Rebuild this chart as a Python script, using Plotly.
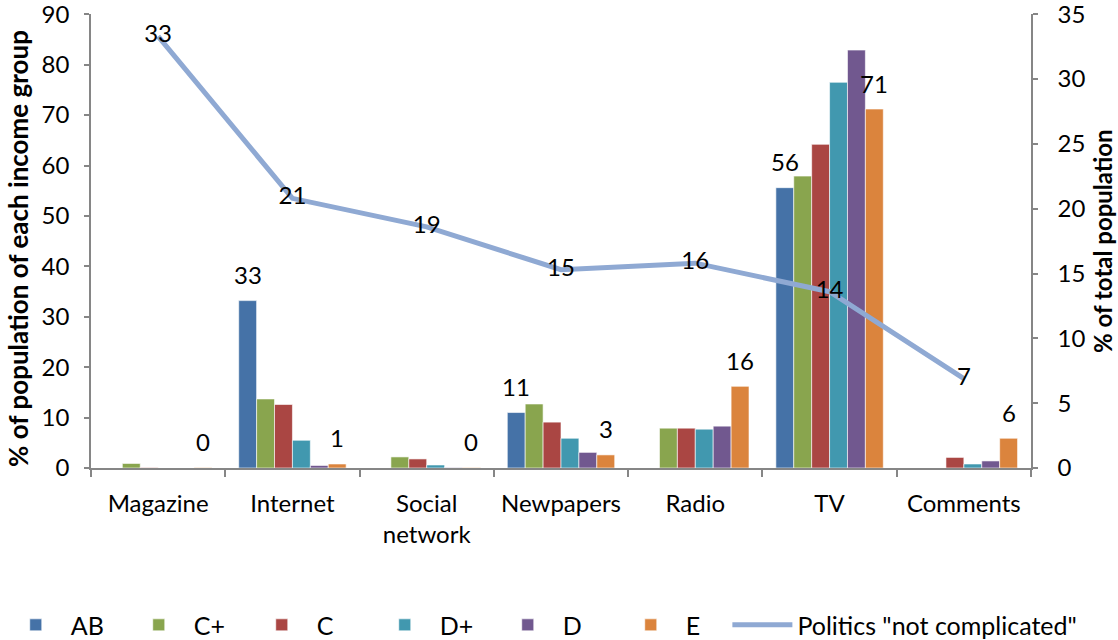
import plotly.graph_objects as go

categories = ["Magazine", "Internet", "Social<br>network", "Newpapers", "Radio", "TV", "Comments"]

ab = [None, 33.2, None, 11.0, None, 55.6, None]
c_plus = [0.9, 13.7, 2.2, 12.7, 7.9, 57.9, None]
c = [0.1, 12.6, 1.8, 9.1, 7.9, 64.2, 2.1]
d_plus = [0.0, 5.5, 0.6, 5.9, 7.7, 76.5, 0.8]
d = [0.0, 0.5, 0.1, 3.1, 8.3, 82.9, 1.4]
e = [0.1, 0.8, 0.1, 2.6, 16.2, 71.2, 5.9]

politics = [33.3, 20.8, 18.6, 15.3, 15.8, 13.6, 6.9]

series_names = ["AB", "C+", "C", "D+", "D", "E"]
series_values = [ab, c_plus, c, d_plus, d, e]
series_colors = ["#4572A7", "#89A54E", "#AA4643", "#4198AF", "#71588F", "#DB843D"]
labelled_series = ["AB", "E"]

left_ticks = [0, 10, 20, 30, 40, 50, 60, 70, 80, 90]
right_ticks = [0, 5, 10, 15, 20, 25, 30, 35]

left_title = "% of population of each income group"
right_title = "% of total population"

FONT = "Lato"
AXIS_GREY = "#868686"


def rlabel(v):
    return "" if v is None else str(int(v + 0.5))


fig = go.Figure()
for name, vals, col in zip(series_names, series_values, series_colors):
    fig.add_trace(go.Bar(
        x=categories, y=vals, name=name,
        marker=dict(color=col, line=dict(color="rgba(255,255,255,0.6)", width=1)),
        yaxis="y", legend="legend",
    ))

fig.add_trace(go.Scatter(
    x=categories, y=politics, name='Politics "not complicated"',
    mode="lines+text", yaxis="y2", legend="legend2",
    line=dict(color="#8FA9D3", width=5),
    text=[rlabel(v) for v in politics],
    textposition="middle center",
    textfont=dict(family=FONT, size=24, color="black"),
    cliponaxis=False,
))

# bar labels for the AB and E series
n_series = len(series_names)
cat_px = 940 / len(categories)
bar_px = cat_px * 0.8 / n_series
annotations = []
for idx, (name, vals) in enumerate(zip(series_names, series_values)):
    if name not in labelled_series:
        continue
    for cat, v in zip(categories, vals):
        if v is None:
            continue
        annotations.append(dict(
            x=cat, y=v, xref="x", yref="y", text=rlabel(v),
            showarrow=False, xanchor="center", yanchor="middle",
            xshift=(idx - (n_series - 1) / 2) * bar_px, yshift=26,
            font=dict(family=FONT, size=24, color="black"),
        ))

# axis titles
annotations.append(dict(
    x=-0.0777, y=0.4846, xref="paper", yref="paper", text="<b>" + left_title + "</b>",
    textangle=-90, showarrow=False, xanchor="center", yanchor="middle",
    font=dict(family=FONT, size=26, color="black"),
))
annotations.append(dict(
    x=1.0755, y=0.5, xref="paper", yref="paper", text="<b>" + right_title + "</b>",
    textangle=-90, showarrow=False, xanchor="center", yanchor="middle",
    font=dict(family=FONT, size=24, color="black"),
))

legend_font = dict(family=FONT, size=25, color="black")

fig.update_layout(
    width=1118, height=640,
    margin=dict(l=91, r=87, t=14, b=172, autoexpand=False),
    paper_bgcolor="white", plot_bgcolor="white",
    barmode="group", bargap=0.2, bargroupgap=0,
    font=dict(family=FONT, size=24, color="black"),
    annotations=annotations,
    showlegend=True,
    legend=dict(orientation="h", x=-0.096, xanchor="left", y=-0.346, yanchor="middle",
                font=legend_font, traceorder="normal",
                itemwidth=60, entrywidth=48, entrywidthmode="pixels"),
    legend2=dict(orientation="h", x=0.677, xanchor="left", y=-0.346, yanchor="middle",
                 font=legend_font, itemwidth=60),
    xaxis=dict(
        automargin=False,
        showline=True, linecolor=AXIS_GREY, linewidth=1.5,
        ticks="outside", ticklen=7, tickcolor=AXIS_GREY, tickwidth=1.5,
        tickson="boundaries", showgrid=False, zeroline=False,
        tickfont=dict(family=FONT, size=24, color="black"),
        ticklabelstandoff=13,
    ),
    yaxis=dict(
        automargin=False,
        range=[0, 90.05], tickmode="array", tickvals=left_ticks,
        showline=True, linecolor=AXIS_GREY, linewidth=1.5,
        ticks="outside", ticklen=5, tickcolor=AXIS_GREY, tickwidth=1.5,
        showgrid=False, zeroline=False, ticklabeloverflow="allow",
        tickfont=dict(family=FONT, size=24, color="black"),
        ticklabelstandoff=10,
    ),
    yaxis2=dict(
        automargin=False,
        range=[0, 35.02], tickmode="array", tickvals=right_ticks,
        overlaying="y", side="right",
        showline=True, linecolor=AXIS_GREY, linewidth=1.5,
        ticks="outside", ticklen=5, tickcolor=AXIS_GREY, tickwidth=1.5,
        showgrid=False, zeroline=False, ticklabeloverflow="allow",
        tickfont=dict(family=FONT, size=24, color="black"),
        ticklabelstandoff=15,
    ),
)

fig.write_html("out.html", config={"displayModeBar": False},
               post_script="document.body.style.margin='0';")
